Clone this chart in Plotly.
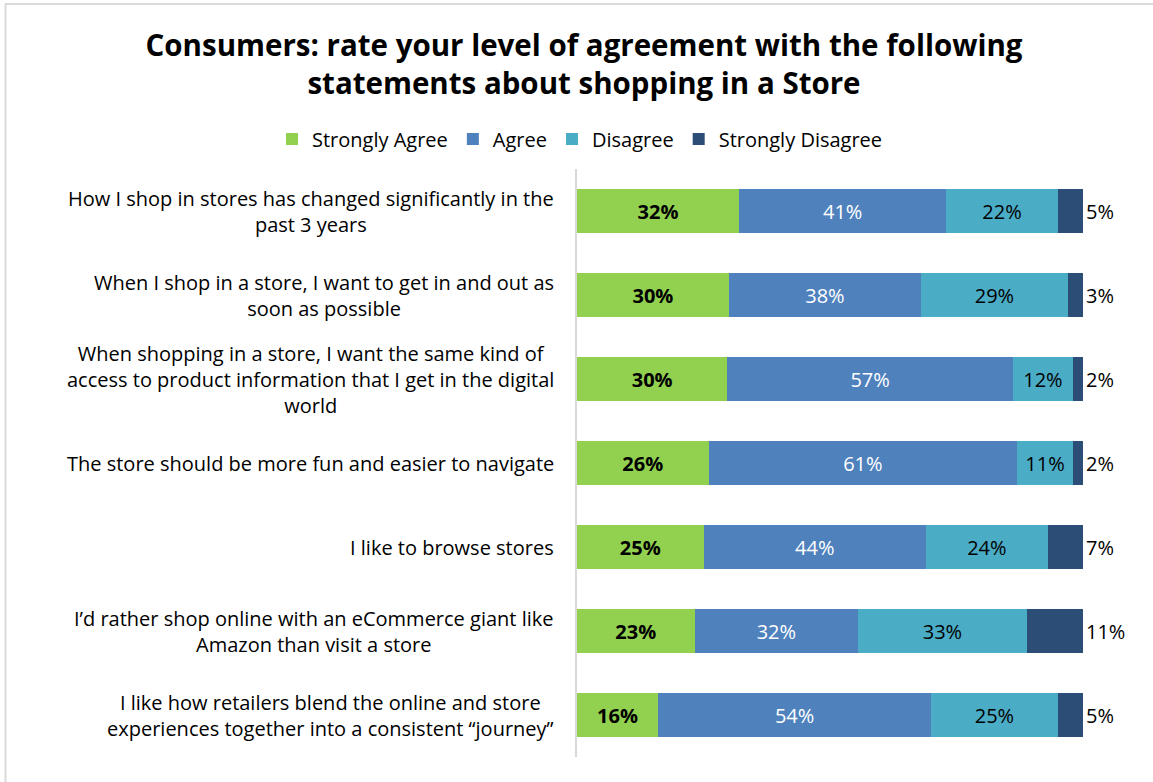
import plotly.graph_objects as go

categories = [
    "How I shop in stores has changed significantly in the<br>past 3 years",
    "When I shop in a store, I want to get in and out as<br>soon as possible",
    "When shopping in a store, I want the same kind of<br>access to product information that I get in the digital<br>world",
    "The store should be more fun and easier to navigate",
    "I like to browse stores",
    "I’d rather shop online with an eCommerce giant like<br>Amazon than visit a store",
    "I like how retailers blend the online and store<br>experiences together into a consistent “journey”",
]
strongly_agree = [32, 30, 30, 26, 25, 23, 16]
agree = [41, 38, 57, 61, 44, 32, 54]
disagree = [22, 29, 12, 11, 24, 33, 25]
strongly_disagree = [5, 3, 2, 2, 7, 11, 5]

FONT = "Open Sans"
W, H = 1153, 782
L, R, T, B = 577, 1153, 169, 757
BAR_END = 1083  # pixel where 100% lands

series = [
    ("Strongly Agree", strongly_agree, "#92D050", "black", "inside", "<b>%{text}</b>"),
    ("Agree", agree, "#4F81BD", "white", "inside", "%{text}"),
    ("Disagree", disagree, "#4BACC6", "black", "inside", "%{text}"),
    ("Strongly Disagree", strongly_disagree, "#2C4D76", "black", "outside", "%{text}"),
]

fig = go.Figure()
for name, vals, color, tcolor, tpos, ttmpl in series:
    tfont = dict(color=tcolor, size=20, family=FONT)
    fig.add_trace(go.Bar(
        name=name, y=categories, x=vals, orientation="h",
        marker=dict(color=color, line=dict(width=0)),
        text=[f"{v}%" for v in vals], texttemplate=ttmpl,
        textposition=tpos, insidetextanchor="middle",
        textfont=tfont, outsidetextfont=tfont, insidetextfont=tfont,
        constraintext="none", cliponaxis=False, hoverinfo="skip",
    ))

pw, ph = R - L, B - T
def px_x(x):
    return (x - L) / pw
def px_y(y):
    return (B - y) / ph

annotations = [
    dict(text=c, x=px_x(556), xref="paper", y=c, yref="y", xanchor="right",
         yanchor="middle", align="center", showarrow=False,
         font=dict(family=FONT, size=20, color="black"))
    for c in categories
]

fig.update_layout(
    width=W, height=H,
    margin=dict(l=L, r=W - R, t=T, b=H - B, pad=0, autoexpand=False),
    paper_bgcolor="white", plot_bgcolor="white",
    barmode="stack", barnorm="percent", bargap=0.475,
    font=dict(family=FONT, size=20, color="black"),
    title=dict(
        text="<b>Consumers: rate your level of agreement with the following<br>statements about shopping in a Store</b>",
        x=584 / W, xanchor="center", xref="container",
        y=1 - 56 / H, yanchor="middle", yref="container",
        font=dict(family=FONT, size=29.5, color="black"),
    ),
    legend=dict(
        orientation="h", x=px_x(272), xanchor="left", xref="paper",
        y=px_y(139), yanchor="middle", yref="paper",
        font=dict(family=FONT, size=20, color="black"),
        itemwidth=30, traceorder="normal", bgcolor="rgba(0,0,0,0)",
    ),
    xaxis=dict(range=[0, 100 * pw / (BAR_END - L)], visible=False, fixedrange=True),
    yaxis=dict(autorange="reversed", showticklabels=False, showgrid=False,
               showline=True, linecolor="#D9D9D9", linewidth=2, ticks="",
               zeroline=False, fixedrange=True),
    annotations=annotations,
    shapes=[dict(type="rect", xref="paper", yref="paper",
                 x0=px_x(5.5), x1=px_x(1165), y0=px_y(800), y1=px_y(4),
                 line=dict(color="#D9D9D9", width=2), fillcolor="rgba(0,0,0,0)",
                 layer="below")],
    showlegend=True,
)

fig.write_html("out.html", config={"displayModeBar": False},
               post_script="document.body.style.margin='0';document.body.style.overflow='hidden';")
